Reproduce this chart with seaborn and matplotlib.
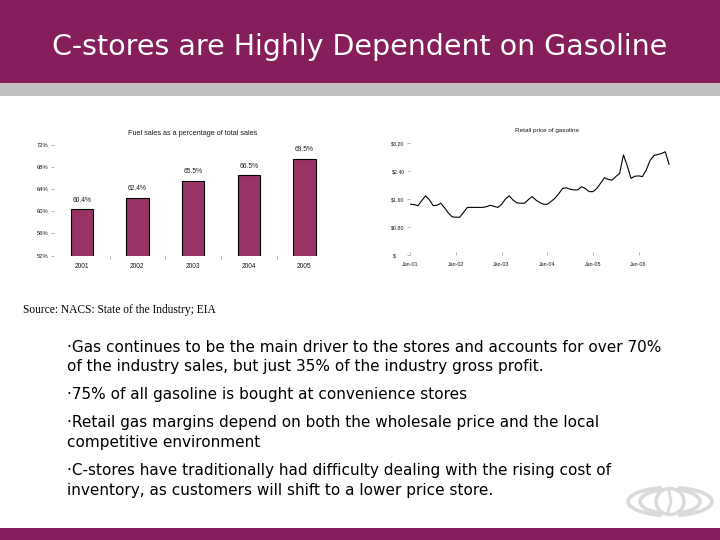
import matplotlib
matplotlib.use("Agg")
import matplotlib.pyplot as plt
from matplotlib.patches import Rectangle, Arc
import seaborn as sns
import pandas as pd

# ---------------- data ----------------
years = ["2001", "2002", "2003", "2004", "2005"]
fuel_share = [60.4, 62.4, 65.5, 66.5, 69.5]
share_ticks = [52, 56, 60, 64, 68, 72]

# monthly retail gasoline price, Jan-01 .. Sep-06
price_2001 = [1.45, 1.44, 1.41, 1.55, 1.69, 1.58, 1.41, 1.42, 1.48, 1.35, 1.20, 1.09]
price_2002 = [1.08, 1.08, 1.22, 1.36, 1.36, 1.36, 1.36, 1.36, 1.38, 1.42, 1.39, 1.36]
price_2003 = [1.45, 1.60, 1.69, 1.57, 1.49, 1.48, 1.48, 1.58, 1.67, 1.57, 1.50, 1.45]
price_2004 = [1.45, 1.53, 1.62, 1.75, 1.90, 1.92, 1.88, 1.86, 1.86, 1.95, 1.90, 1.81]
price_2005 = [1.81, 1.90, 2.05, 2.21, 2.16, 2.14, 2.24, 2.33, 2.86, 2.55, 2.19, 2.25]
price_2006 = [2.26, 2.24, 2.43, 2.70, 2.84, 2.87, 2.90, 2.95, 2.59]
prices = price_2001 + price_2002 + price_2003 + price_2004 + price_2005 + price_2006
month_index = list(range(len(prices)))
price_ticks = [0, 0.8, 1.6, 2.4, 3.2]
price_tick_labels = ["$      ", "$0.80", "$1.60", "$2.40", "$3.20"]
date_ticks = [0, 12, 24, 36, 48, 60]
date_tick_labels = ["Jan-01", "Jan-02", "Jan-03", "Jan-04", "Jan-05", "Jan-06"]

title = "C-stores are Highly Dependent on Gasoline"
source = "Source: NACS: State of the Industry; EIA"
bullets = [
    ("\u00b7Gas continues to be the main driver to the stores and accounts for over 70%", 352),
    ("of the industry sales, but just 35% of the industry gross profit.", 371),
    ("\u00b775% of all gasoline is bought at convenience stores", 399),
    ("\u00b7Retail gas margins depend on both the wholesale price and the local", 427),
    ("competitive environment", 447),
    ("\u00b7C-stores have traditionally had difficulty dealing with the rising cost of", 475),
    ("inventory, as customers will shift to a lower price store.", 495),
]

MAROON = "#861E5B"
BAR = "#993366"
GREY = "#C0C0C0"
TXT = "#1a1a1a"
CHART_FONT = "Liberation Sans"

fig = plt.figure(figsize=(7.2, 5.4), dpi=100)
fig.patch.set_facecolor("white")

# background / decoration layer in pixel coordinates
bg = fig.add_axes([0, 0, 1, 1], zorder=0)
bg.set_xlim(0, 720)
bg.set_ylim(540, 0)
bg.axis("off")
bg.add_patch(Rectangle((0, 0), 720, 83, color=MAROON, lw=0))
bg.add_patch(Rectangle((0, 83), 720, 13, color=GREY, lw=0))
bg.add_patch(Rectangle((0, 528), 720, 12, color=MAROON, lw=0))
bg.text(360, 55, title, color="white", fontsize=20.5, ha="center", va="baseline",
        family="DejaVu Sans")
bg.text(23, 313.5, source, color="black", fontsize=8.3, ha="left", va="baseline",
        family="Liberation Serif")
for txt, yb in bullets:
    bg.text(67, yb, txt, color="black", fontsize=11, ha="left", va="baseline",
            family="DejaVu Sans")
# faint logo
lc = "#dadada"
bg.add_patch(Arc((670, 501.5), 84, 28, theta1=120, theta2=240, color=lc, lw=2.6))
bg.add_patch(Arc((670, 501.5), 84, 28, theta1=-60, theta2=60, color=lc, lw=2.6))
bg.add_patch(Arc((670, 501.5), 60, 24, theta1=120, theta2=240, color=lc, lw=2.6))
bg.add_patch(Arc((670, 501.5), 60, 24, theta1=-60, theta2=60, color=lc, lw=2.6))
bg.add_patch(Arc((670, 501.5), 28, 26, theta1=0, theta2=360, color=lc, lw=2.4))
bg.plot([669, 671, 668], [491, 502, 512], color=lc, lw=2.0)

# ---------------- bar chart ----------------
ax1 = fig.add_axes([53.9 / 720, 1 - 255.7 / 540, 278.4 / 720, 111.0 / 540], zorder=2)
df_bar = pd.DataFrame({"year": years, "share": fuel_share})
sns.barplot(data=df_bar, x="year", y="share", ax=ax1, color=BAR, saturation=1,
            width=0.4, edgecolor="black", linewidth=0.8)
ax1.set_ylim(52, 72)
ax1.set_xlim(-0.5, 4.5)
ax1.set_yticks(share_ticks)
ax1.set_yticklabels([f"{t}%" for t in share_ticks], fontsize=4.2, family=CHART_FONT, color=TXT)
ax1.set_xticks(range(len(years)))
ax1.set_xticklabels(years, fontsize=4.8, family=CHART_FONT, color=TXT)
ax1.set_xticks([0.5, 1.5, 2.5, 3.5], minor=True)
ax1.tick_params(axis="x", which="major", length=0, pad=5)
ax1.tick_params(axis="x", which="minor", length=2, width=0.6, color="#aaaaaa")
ax1.tick_params(axis="y", length=2, width=0.6, color="#aaaaaa", pad=2)
ax1.set_xlabel("")
ax1.set_ylabel("")
for s in ax1.spines.values():
    s.set_visible(False)
ax1.set_facecolor("none")
ax1.bar_label(ax1.containers[0], labels=[f"{v:.1f}%" for v in fuel_share],
              padding=4, fontsize=4.8, family=CHART_FONT, color=TXT)
ax1.set_title("Fuel sales as a percentage of total sales", fontsize=5.2,
              family=CHART_FONT, color=TXT, pad=7)

# ---------------- line chart ----------------
ax2 = fig.add_axes([410.3 / 720, 1 - 255.0 / 540, 274.0 / 720, 112.0 / 540], zorder=2)
df_line = pd.DataFrame({"month": month_index, "price": prices})
sns.lineplot(data=df_line, x="month", y="price", ax=ax2, color="black", linewidth=0.8)
ax2.set_xlim(0, 72)
ax2.set_ylim(0, 3.2)
ax2.set_yticks(price_ticks)
ax2.set_yticklabels(price_tick_labels, fontsize=3.8, family=CHART_FONT, color=TXT)
ax2.set_xticks(date_ticks)
ax2.set_xticklabels(date_tick_labels, fontsize=3.9, family=CHART_FONT, color=TXT)
ax2.tick_params(axis="x", length=2, width=0.6, color="#aaaaaa", direction="in", pad=5)
ax2.tick_params(axis="y", length=2, width=0.6, color="#aaaaaa", pad=2)
ax2.set_xlabel("")
ax2.set_ylabel("")
for s in ax2.spines.values():
    s.set_visible(False)
ax2.set_facecolor("none")
ax2.set_title("Retail price of gasoline", fontsize=4.6, family=CHART_FONT, color=TXT, pad=8)

fig.savefig("out.png", dpi=100)
